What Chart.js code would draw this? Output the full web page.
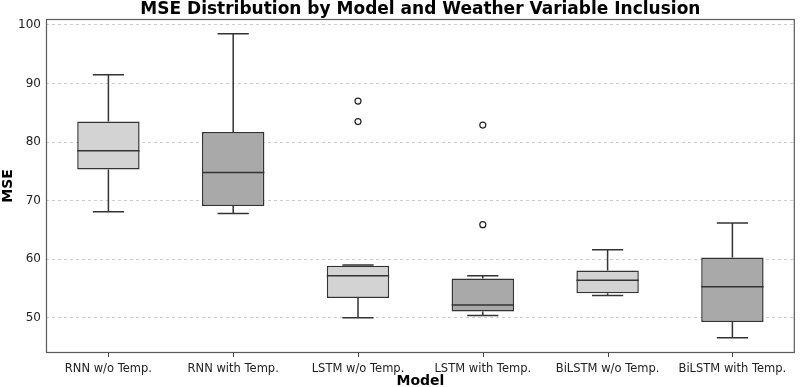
<!DOCTYPE html>
<html>
<head>
<meta charset="utf-8">
<script src="https://cdn.jsdelivr.net/npm/chart.js@4/dist/chart.umd.min.js"></script>
<style>
  html, body { margin: 0; padding: 0; background: #fff; }
  #wrap { width: 800px; height: 387px; }
</style>
</head>
<body>
<div id="wrap"><canvas id="mse-chart"></canvas></div>
<script>
// Box plot values
const models = ['RNN w/o Temp.', 'RNN with Temp.', 'LSTM w/o Temp.', 'LSTM with Temp.', 'BiLSTM w/o Temp.', 'BiLSTM with Temp.'];
const whiskerLow = [68.1, 67.8, 50.0, 50.4, 53.8, 46.6];
const q1 = [75.3, 69.1, 53.4, 51.1, 54.2, 49.3];
const median = [78.5, 74.8, 57.2, 52.2, 56.4, 55.3];
const q3 = [83.5, 81.7, 58.9, 56.7, 58.1, 60.3];
const whiskerHigh = [91.5, 98.5, 59.0, 57.2, 61.6, 66.2];
const outliers = [
    { x: 'LSTM w/o Temp.', y: 87.0 },
    { x: 'LSTM w/o Temp.', y: 83.5 },
    { x: 'LSTM with Temp.', y: 82.9 },
    { x: 'LSTM with Temp.', y: 65.9 }
];
const yTicks = [50, 60, 70, 80, 90, 100];
const boxColors = ['#d3d3d3', '#a9a9a9', '#d3d3d3', '#a9a9a9', '#d3d3d3', '#a9a9a9'];
const chartTitle = 'MSE Distribution by Model and Weather Variable Inclusion';

const edge = '#333333';

// Whiskers, caps, medians, frame, x tick marks and title (centred over the plot area)
const boxPlotExtras = {
    id: 'boxPlotExtras',
    afterDatasetsDraw(chart) {
        const ctx = chart.ctx;
        const x = chart.scales.x;
        const y = chart.scales.y;
        const a = chart.chartArea;
        const bars = chart.getDatasetMeta(0).data;
        ctx.save();
        ctx.strokeStyle = edge;
        ctx.lineWidth = 1.5;
        models.forEach((m, i) => {
            const cx = x.getPixelForValue(i);
            const half = bars[i].width / 2;
            const cap = half / 2;
            ctx.beginPath();
            ctx.moveTo(cx, y.getPixelForValue(q3[i]));
            ctx.lineTo(cx, y.getPixelForValue(whiskerHigh[i]));
            ctx.moveTo(cx, y.getPixelForValue(q1[i]));
            ctx.lineTo(cx, y.getPixelForValue(whiskerLow[i]));
            ctx.moveTo(cx - cap, y.getPixelForValue(whiskerHigh[i]));
            ctx.lineTo(cx + cap, y.getPixelForValue(whiskerHigh[i]));
            ctx.moveTo(cx - cap, y.getPixelForValue(whiskerLow[i]));
            ctx.lineTo(cx + cap, y.getPixelForValue(whiskerLow[i]));
            ctx.moveTo(cx - half, y.getPixelForValue(median[i]));
            ctx.lineTo(cx + half, y.getPixelForValue(median[i]));
            ctx.stroke();
        });

        // tick marks under each category
        ctx.strokeStyle = '#444';
        ctx.lineWidth = 1;
        ctx.beginPath();
        models.forEach((m, i) => {
            const cx = Math.round(x.getPixelForValue(i)) + 0.5;
            ctx.moveTo(cx, a.bottom);
            ctx.lineTo(cx, a.bottom + 4);
        });
        ctx.stroke();

        ctx.strokeStyle = '#5a5a5a';
        ctx.lineWidth = 1.2;
        ctx.strokeRect(a.left + 0.5, a.top + 0.5, a.right - a.left - 1, a.bottom - a.top - 1);

        ctx.fillStyle = '#000';
        ctx.font = 'bold 17px "DejaVu Sans"';
        ctx.textAlign = 'center';
        ctx.textBaseline = 'alphabetic';
        ctx.fillText(chartTitle, (a.left + a.right) / 2, 14);
        ctx.restore();
    }
};

const ctx = document.getElementById('mse-chart').getContext('2d');
new Chart(ctx, {
    data: {
        labels: models,
        datasets: [{
            type: 'bar',
            data: models.map((m, i) => [q1[i], q3[i]]),
            backgroundColor: boxColors,
            borderColor: edge,
            borderWidth: 1.5,
            borderSkipped: false,
            categoryPercentage: 1,
            barPercentage: 0.5,
            order: 2
        }, {
            type: 'line',
            data: outliers,
            showLine: false,
            pointStyle: 'circle',
            pointRadius: 3,
            pointBorderWidth: 1.2,
            pointBackgroundColor: '#fff',
            pointBorderColor: '#222',
            order: 1
        }]
    },
    options: {
        responsive: true,
        maintainAspectRatio: false,
        animation: false,
        layout: { padding: { right: 2, left: 0, top: 19, bottom: 0 } },
        plugins: {
            legend: { display: false },
            tooltip: { enabled: false },
            title: { display: false }
        },
        scales: {
            x: {
                type: 'category',
                grid: { display: false },
                border: { display: false },
                ticks: { font: { family: 'DejaVu Sans', size: 11.5 }, color: '#222', padding: 1, maxRotation: 0 },
                title: {
                    display: true,
                    text: 'Model',
                    font: { family: 'DejaVu Sans', size: 14, weight: 'bold' },
                    color: '#000',
                    padding: { top: 0, bottom: -3 }
                },
                afterFit(scale) { scale.height = 34; }
            },
            y: {
                min: 44,
                max: 101,
                afterBuildTicks(scale) { scale.ticks = yTicks.map(v => ({ value: v })); },
                grid: { color: '#cccccc', drawTicks: false, lineWidth: 1 },
                border: { display: false, dash: [3, 3] },
                ticks: { font: { family: 'DejaVu Sans', size: 12 }, color: '#222', padding: 5 },
                title: {
                    display: true,
                    text: 'MSE',
                    font: { family: 'DejaVu Sans', size: 14, weight: 'bold' },
                    color: '#000',
                    padding: { top: 0, bottom: 2 }
                },
                afterFit(scale) { scale.width = 46; }
            }
        }
    },
    plugins: [boxPlotExtras]
});
</script>
</body>
</html>
